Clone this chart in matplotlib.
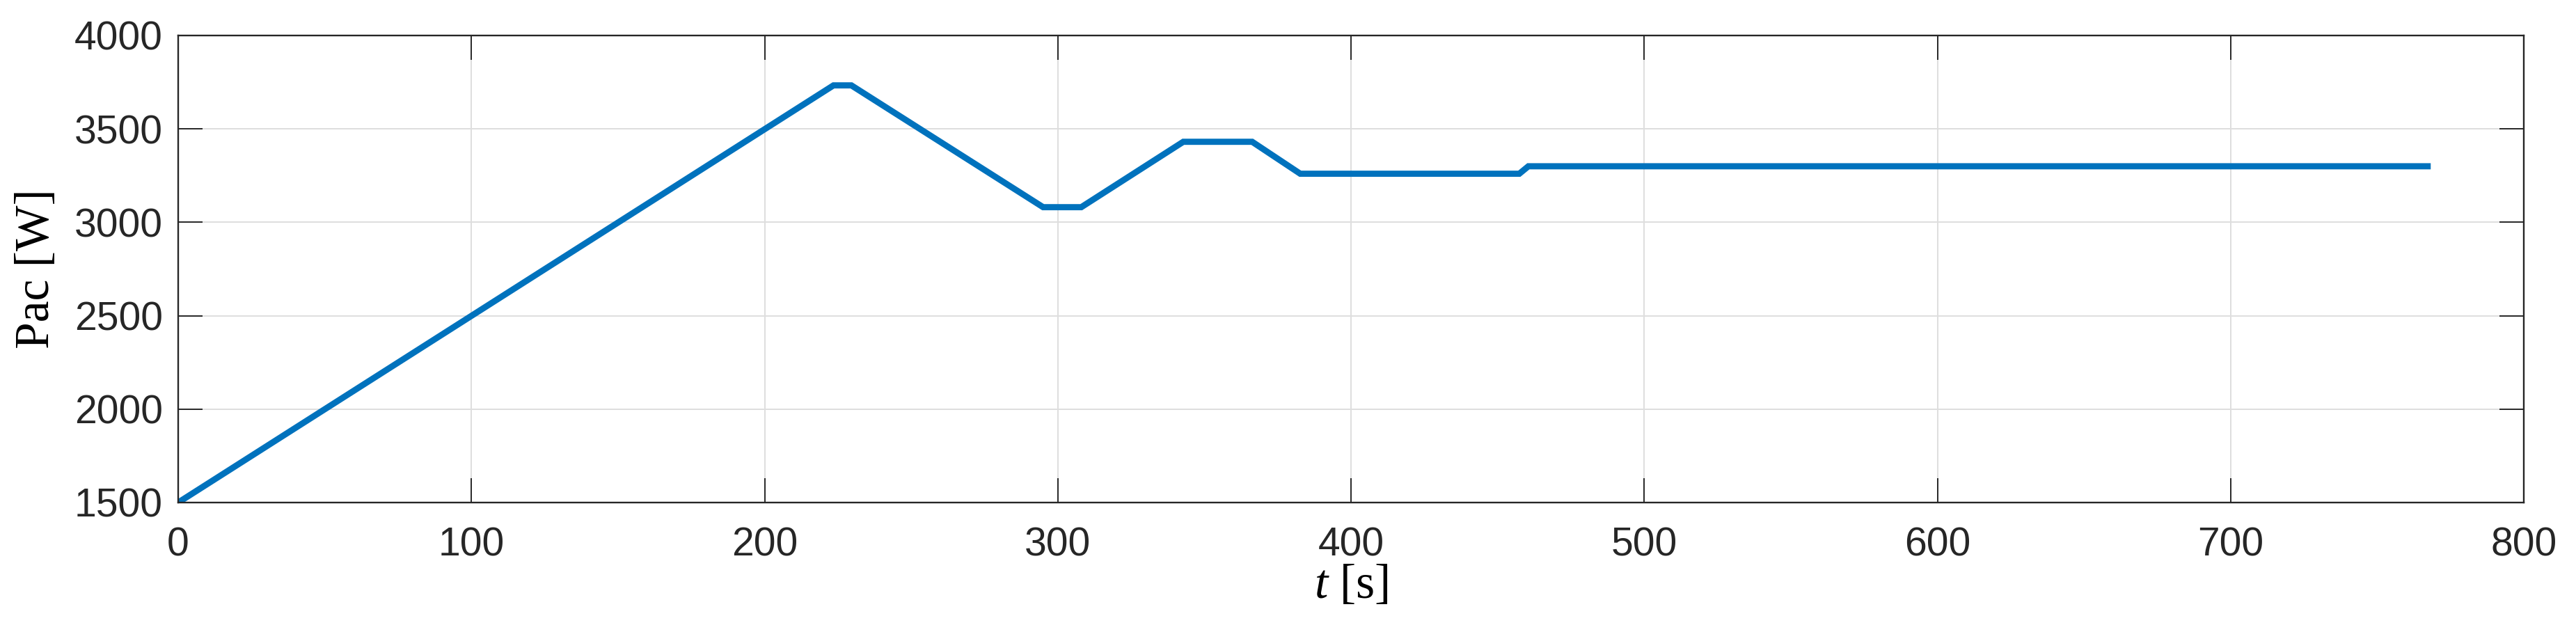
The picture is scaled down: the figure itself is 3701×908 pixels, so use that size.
import matplotlib
matplotlib.use('Agg')
import matplotlib.pyplot as plt

plt.rcParams['mathtext.fontset'] = 'custom'
plt.rcParams['mathtext.rm'] = 'Liberation Serif'
plt.rcParams['mathtext.it'] = 'Liberation Serif:italic'

# time [s] and AC power [W]
t_s = [0, 223.5, 229.6, 295.0, 308.0, 342.8, 366.3, 382.7, 457.4, 460.5, 767.2]
pac_w = [1500, 3733, 3733, 3081, 3081, 3431, 3431, 3260, 3260, 3300, 3300]

x_ticks = [0, 100, 200, 300, 400, 500, 600, 700, 800]
y_ticks = [1500, 2000, 2500, 3000, 3500, 4000]

fig = plt.figure(figsize=(37.01, 9.08), dpi=100)
ax = fig.add_axes([256 / 3701, 1 - 722 / 908, (3626 - 256) / 3701, (722 - 51) / 908])

ax.plot(t_s, pac_w, color='#0072BD', linewidth=6.4, solid_joinstyle='miter')

ax.set_xlim(0, 800)
ax.set_ylim(1500, 4000)
ax.set_xticks(x_ticks)
ax.set_yticks(y_ticks)

ax.grid(True, color='#dedede', linewidth=1.4)
ax.set_axisbelow(True)

for side in ax.spines.values():
    side.set_linewidth(1.7)
    side.set_color('#262626')

ax.tick_params(direction='in', length=25, width=1.4, color='#262626',
               top=True, right=True, labelsize=41, labelcolor='#262626')
ax.tick_params(axis='x', pad=25)
ax.tick_params(axis='y', pad=16)
for lab in ax.get_xticklabels() + ax.get_yticklabels():
    lab.set_family('Liberation Sans')

ax.set_xlabel(r'$t$ [s]', fontsize=50, family='Liberation Serif', labelpad=0)
ax.set_ylabel('Pac [W]', fontsize=50, family='Liberation Serif', labelpad=16)

fig.savefig('out.png', dpi=100)
